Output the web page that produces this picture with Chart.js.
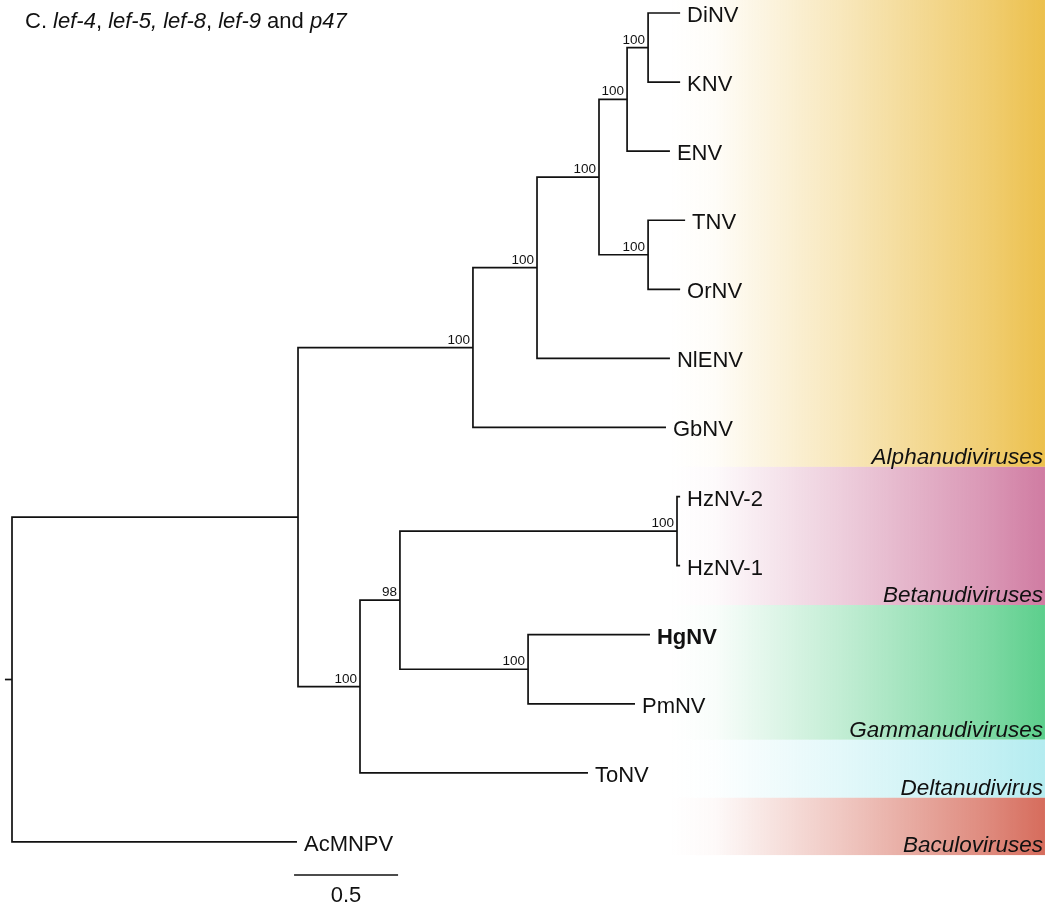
<!DOCTYPE html>
<html>
<head>
<meta charset="utf-8">
<script src="https://cdn.jsdelivr.net/npm/chart.js@4/dist/chart.umd.min.js"></script>
<style>
  html, body { margin: 0; padding: 0; background: #fff; }
  #wrap { position: relative; width: 1051px; height: 908px; }
</style>
</head>
<body>
<div id="wrap"><canvas id="treeChart" width="1051" height="908"></canvas></div>
<script>
// tips, top to bottom (row index = position)
const taxa = ['DiNV', 'KNV', 'ENV', 'TNV', 'OrNV', 'NlENV', 'GbNV', 'HzNV-2', 'HzNV-1', 'HgNV', 'PmNV', 'ToNV', 'AcMNPV'];
const taxonDepth = [3.212, 3.212, 3.163, 3.236, 3.212, 3.163, 3.144, 3.212, 3.212, 3.067, 2.995, 2.769, 1.37];
const taxonParent = ['DK', 'DK', 'DKE', 'TO', 'TO', 'N537', 'N473', 'Hz', 'Hz', 'HP', 'HP', 'N360', 'root'];

// internal nodes
const cladeIds = ['root', 'ingroup', 'N473', 'N537', 'N599', 'DKE', 'DK', 'TO', 'N360', 'N400', 'Hz', 'HP'];
const cladeParent = [null, 'root', 'ingroup', 'N473', 'N537', 'N599', 'DKE', 'N599', 'ingroup', 'N360', 'N400', 'N400'];
const cladeDepth = [0, 1.375, 2.216, 2.524, 2.822, 2.957, 3.058, 3.058, 1.673, 1.865, 3.197, 2.481];
const cladeSupport = [null, null, 100, 100, 100, 100, 100, 100, 100, 98, 100, 100];

// coloured clade bands (rows)
const groupNames = ['Alphanudiviruses', 'Betanudiviruses', 'Gammanudiviruses', 'Deltanudivirus', 'Baculoviruses'];
const groupTop = [-0.19, 6.57, 8.57, 10.52, 11.36];
const groupBottom = [6.57, 8.57, 10.52, 11.36, 12.19];
const groupColors = ['236,192,76', '208,124,162', '92,207,140', '180,236,240', '214,108,92'];

const scaleBarLength = 0.5;

// ---- build tree geometry ----
const nodeY = {};
const nodeDepth = {};
const children = {};
cladeIds.forEach((id, i) => { nodeDepth[id] = cladeDepth[i]; children[id] = []; });
taxa.forEach((t, i) => {
    nodeY[t] = i;
    nodeDepth[t] = taxonDepth[i];
    children[taxonParent[i]].push(t);
});
cladeIds.forEach((id, i) => { if (cladeParent[i]) children[cladeParent[i]].push(id); });

function getY(id) {
    if (nodeY[id] !== undefined) return nodeY[id];
    const ys = children[id].map(getY);
    nodeY[id] = (Math.min(...ys) + Math.max(...ys)) / 2;
    return nodeY[id];
}
getY('root');

const lineStyle = {
    showLine: true, borderColor: '#111', borderWidth: 1.7,
    pointRadius: 0, tension: 0, fill: false
};

const datasets = cladeIds.map(id => {
    const kids = children[id].slice().sort((a, b) => nodeY[a] - nodeY[b]);
    const a = kids[0], b = kids[kids.length - 1];
    return Object.assign({
        label: id,
        data: [
            { x: nodeDepth[a], y: nodeY[a] },
            { x: nodeDepth[id], y: nodeY[a] },
            { x: nodeDepth[id], y: nodeY[b] },
            { x: nodeDepth[b], y: nodeY[b] }
        ]
    }, lineStyle);
});
// root stub
datasets.push(Object.assign({ label: 'stub', data: [{ x: -0.034, y: nodeY.root }, { x: 0, y: nodeY.root }] }, lineStyle));
// scale bar
datasets.push(Object.assign({ label: 'scale', data: [{ x: 1.356, y: 12.478 }, { x: 1.356 + scaleBarLength, y: 12.478 }] }, lineStyle));

const FONT = '"Liberation Sans", Arial, sans-serif';

const bandsPlugin = {
    id: 'bands',
    beforeDatasetsDraw(chart) {
        const { ctx, scales: { x, y } } = chart;
        const x0 = x.getPixelForValue(3.163), x1 = x.getPixelForValue(4.966);
        groupNames.forEach((name, i) => {
            const top = y.getPixelForValue(groupTop[i]);
            const bot = y.getPixelForValue(groupBottom[i]);
            const g = ctx.createLinearGradient(x0, 0, x1, 0);
            const c = groupColors[i];
            g.addColorStop(0, 'rgba(' + c + ',0)');
            g.addColorStop(0.12, 'rgba(' + c + ',0.04)');
            g.addColorStop(0.5, 'rgba(' + c + ',0.42)');
            g.addColorStop(0.85, 'rgba(' + c + ',0.8)');
            g.addColorStop(1, 'rgba(' + c + ',1)');
            ctx.fillStyle = g;
            ctx.fillRect(x0, top, x1 - x0, bot - top);
        });
    }
};

const labelsPlugin = {
    id: 'labels',
    afterDatasetsDraw(chart) {
        const { ctx, scales: { x, y } } = chart;
        ctx.save();
        ctx.fillStyle = '#111';
        ctx.textBaseline = 'alphabetic';

        // tip labels
        ctx.textAlign = 'left';
        taxa.forEach((t, i) => {
            ctx.font = (t === 'HgNV' ? 'bold ' : '') + '22px ' + FONT;
            ctx.fillText(t, x.getPixelForValue(taxonDepth[i]) + 7, y.getPixelForValue(i) + 9);
        });

        // support values
        ctx.textAlign = 'right';
        ctx.font = '13.5px ' + FONT;
        cladeIds.forEach((id, i) => {
            if (cladeSupport[i] == null) return;
            ctx.fillText(String(cladeSupport[i]), x.getPixelForValue(cladeDepth[i]) - 3, y.getPixelForValue(nodeY[id]) - 4);
        });

        // group labels
        ctx.font = 'italic 22.5px ' + FONT;
        groupNames.forEach((name, i) => {
            ctx.fillText(name, x.getPixelForValue(4.966) - 2, y.getPixelForValue(groupBottom[i]) - 3);
        });

        // scale bar label
        ctx.textAlign = 'center';
        ctx.font = '22px ' + FONT;
        ctx.fillText(String(scaleBarLength), x.getPixelForValue(1.356 + scaleBarLength / 2), y.getPixelForValue(12.478) + 27);

        // title with italic gene names
        const parts = [['C. ', false], ['lef-4', true], [', ', false], ['lef-5, lef-8', true], [', ', false],
                       ['lef-9', true], [' and ', false], ['p47', true]];
        ctx.textAlign = 'left';
        let tx = 25;
        parts.forEach(([s, it]) => {
            ctx.font = (it ? 'italic ' : '') + '22px ' + FONT;
            ctx.fillText(s, tx, 28);
            tx += ctx.measureText(s).width;
        });
        ctx.restore();
    }
};

new Chart(document.getElementById('treeChart').getContext('2d'), {
    type: 'scatter',
    data: { datasets },
    options: {
        responsive: false,
        animation: false,
        events: [],
        layout: { padding: 0 },
        plugins: { legend: { display: false }, tooltip: { enabled: false }, title: { display: false } },
        scales: {
            x: { type: 'linear', display: false, min: -0.0577, max: 4.995 },
            y: { type: 'linear', display: false, reverse: true, min: -0.188, max: 12.956 }
        }
    },
    plugins: [bandsPlugin, labelsPlugin]
});
</script>
</body>
</html>
